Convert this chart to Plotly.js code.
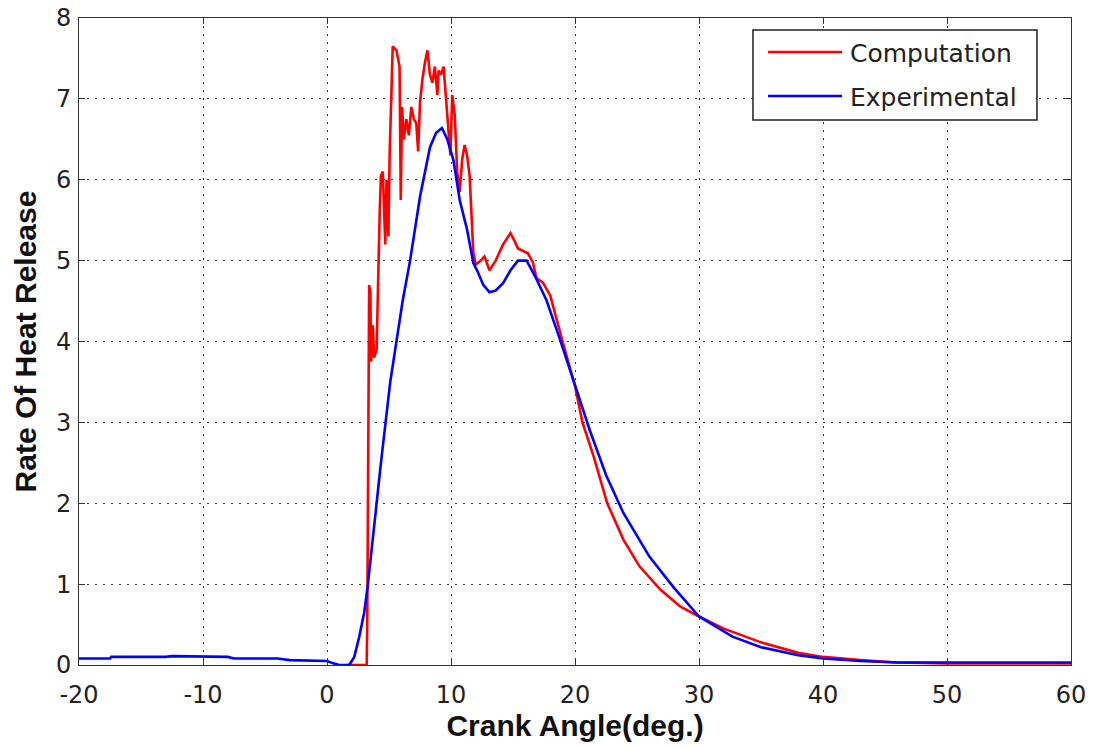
<!DOCTYPE html>
<html>
<head>
<meta charset="utf-8">
<script src="https://cdn.plot.ly/plotly-3.0.1.min.js"></script>
<style>html,body{margin:0;padding:0;background:#fff;}#chart{width:1093px;height:747px;}</style>
</head>
<body>
<div id="chart"></div>
<script>
// Computation (red) — crank angle (deg) and rate of heat release
const compX = [1.5, 3.2, 3.25, 3.3, 3.4, 3.5, 3.55, 3.7, 3.8, 4.0, 4.1, 4.25, 4.35, 4.5, 4.7, 4.8, 4.95, 5.05, 5.3, 5.6, 5.85, 5.95, 6.05, 6.2, 6.4, 6.6, 6.8, 7.0, 7.2, 7.35, 7.5, 7.7, 7.9, 8.1, 8.3, 8.5, 8.7, 8.9, 9.0, 9.2, 9.4, 9.6, 9.8, 9.95, 10.1, 10.3, 10.5, 10.7, 10.9, 11.1, 11.3, 11.5, 11.8, 12.0, 12.4, 12.7, 13.1, 13.6, 14.2, 14.8, 15.1, 15.4, 16.2, 16.6, 16.9, 17.4, 18.0, 18.5, 19.0, 20.0, 20.6, 21.5, 22.6, 23.9, 25.2, 26.9, 28.5, 30.0, 32.0, 35.0, 38.0, 40.0, 43.0, 46.0, 50.0, 55.0, 60.0];
const compY = [0.0, 0.0, 0.6, 2.7, 4.7, 4.6, 3.75, 4.2, 3.8, 3.9, 4.7, 5.6, 6.05, 6.1, 5.2, 6.0, 5.3, 6.3, 7.65, 7.6, 7.4, 5.75, 6.9, 6.5, 6.75, 6.55, 6.9, 6.75, 6.7, 6.35, 6.95, 7.25, 7.45, 7.6, 7.3, 7.2, 7.4, 7.05, 7.35, 7.3, 7.4, 7.0, 6.7, 6.3, 7.05, 6.8, 6.1, 5.85, 6.25, 6.43, 6.3, 6.05, 5.1, 4.95, 5.0, 5.05, 4.88, 5.0, 5.2, 5.34, 5.25, 5.15, 5.09, 4.98, 4.78, 4.73, 4.57, 4.3, 4.0, 3.45, 3.0, 2.58, 2.0, 1.55, 1.22, 0.93, 0.72, 0.6, 0.45, 0.28, 0.15, 0.1, 0.06, 0.03, 0.02, 0.02, 0.02];

// Experimental (blue)
const expX = [-20, -17.5, -17.4, -13, -12.5, -10, -8, -7.5, -4, -3, -1, 0, 0.5, 1.0, 1.8, 2.2, 2.6, 3.0, 3.3, 3.6, 4.0, 4.35, 4.7, 5.1, 5.6, 6.1, 6.7, 7.5, 8.3, 8.8, 9.27, 9.7, 10.2, 10.7, 11.3, 11.8, 12.1, 12.6, 13.1, 13.6, 14.2, 14.8, 15.4, 16.1, 16.8, 17.7, 18.8, 19.5, 20.0, 21.2, 22.5, 23.9, 26.0, 27.9, 30.0, 32.7, 35.0, 38.0, 40.0, 43.0, 46.0, 50.0, 55.0, 60.0];
const expY = [0.08, 0.08, 0.1, 0.1, 0.11, 0.1, 0.1, 0.08, 0.08, 0.06, 0.05, 0.05, 0.02, 0.0, 0.0, 0.1, 0.35, 0.65, 1.0, 1.4, 2.0, 2.5, 3.0, 3.5, 4.0, 4.5, 5.0, 5.79, 6.4, 6.58, 6.64, 6.5, 6.24, 5.75, 5.38, 4.97, 4.88, 4.7, 4.61, 4.63, 4.72, 4.88, 5.0, 5.0, 4.8, 4.51, 4.02, 3.7, 3.45, 2.9, 2.35, 1.88, 1.34, 0.97, 0.6, 0.35, 0.22, 0.12, 0.08, 0.05, 0.03, 0.03, 0.03, 0.03];

const seriesNames = ["Computation", "Experimental"];
const seriesColors = ["#ff0000", "#0000ff"];
const xTicks = [-20, -10, 0, 10, 20, 30, 40, 50, 60];
const yTicks = [0, 1, 2, 3, 4, 5, 6, 7, 8];

const traces = [
  {x: compX, y: compY, name: seriesNames[0], type: "scatter", mode: "lines",
   line: {color: seriesColors[0], width: 2.6}, showlegend: false},
  {x: expX, y: expY, name: seriesNames[1], type: "scatter", mode: "lines",
   line: {color: seriesColors[1], width: 2.6}, showlegend: false}
];

const axisCommon = {
  showline: true, linecolor: "#333", linewidth: 1, mirror: "ticks",
  ticks: "inside", ticklen: 6, tickcolor: "#333", tickwidth: 1,
  showgrid: true, gridcolor: "#333", gridwidth: 1, griddash: "2px,6px",
  zeroline: false,
  tickfont: {family: "DejaVu Sans", size: 24, color: "#222"}
};

// Legend box drawn in paper coordinates (MATLAB-style legend)
const legBox = {x0: 0.6794, x1: 0.9657, y0: 0.8423, y1: 0.9815};
const legRows = [0.9474, 0.8794];
const shapes = [
  {type: "rect", xref: "paper", yref: "paper", x0: legBox.x0, x1: legBox.x1, y0: legBox.y0, y1: legBox.y1,
   line: {color: "#222", width: 1.5}, fillcolor: "#fff", layer: "above"}
];
const annotations = [];
seriesNames.forEach((nm, i) => {
  shapes.push({type: "line", xref: "paper", yref: "paper", x0: 0.6946, x1: 0.7692, y0: legRows[i], y1: legRows[i],
    line: {color: seriesColors[i], width: 2.6}, layer: "above"});
  annotations.push({xref: "paper", yref: "paper", x: 0.7752, y: legRows[i] - 0.002, xanchor: "left", yanchor: "middle",
    text: nm, showarrow: false, font: {family: "DejaVu Sans", size: 25, color: "#222"}});
});

const layout = {
  width: 1093, height: 747,
  margin: {l: 79, r: 22, t: 18, b: 82},
  paper_bgcolor: "#fff", plot_bgcolor: "#fff",
  showlegend: false,
  shapes: shapes,
  annotations: annotations,
  xaxis: Object.assign({}, axisCommon, {
    range: [-20, 60], tickvals: xTicks, ticktext: xTicks.map(String), ticklabelstandoff: 8,
    title: {text: "Crank Angle(deg.)", font: {family: "Liberation Sans", size: 30, color: "#111", weight: "bold"}, standoff: 4}
  }),
  yaxis: Object.assign({}, axisCommon, {
    range: [0, 8], tickvals: yTicks, ticktext: yTicks.map(String), ticklabelstandoff: 2,
    title: {text: "Rate Of Heat Release", font: {family: "Liberation Sans", size: 30, color: "#111", weight: "bold"}, standoff: 10}
  })
};

Plotly.newPlot("chart", traces, layout, {displayModeBar: false, staticPlot: true});
</script>
</body>
</html>
